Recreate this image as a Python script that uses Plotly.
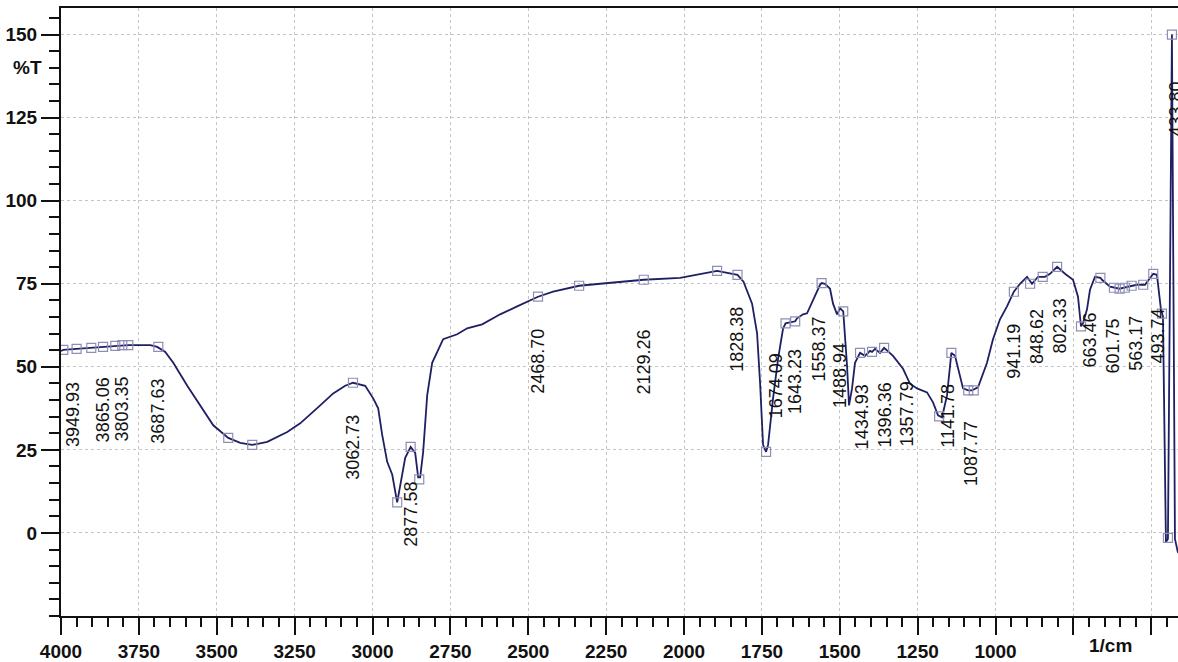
import plotly.graph_objects as go

# FTIR transmittance spectrum (wavenumber in 1/cm, transmittance in %T)
wavenumber = [
    4000, 3992.6, 3950.9, 3902.8, 3864.3, 3825.7, 3803.3, 3784.0, 3713.4, 3691.0,
    3665.3, 3639.6, 3594.7, 3552.9, 3511.2, 3463.1, 3424.6, 3386.1, 3338.0, 3273.8,
    3232.1, 3167.9, 3126.2, 3087.7, 3062.7, 3023.5, 2997.8, 2981.8, 2968.9, 2952.9,
    2936.8, 2920.8, 2911.2, 2895.1, 2877.6, 2863.0, 2853.4, 2847.0, 2837.4, 2824.5,
    2808.5, 2773.2, 2728.2, 2696.1, 2648.0, 2590.2, 2535.7, 2468.7, 2420.2, 2336.7,
    2269.3, 2129.3, 2012.6, 1948.4, 1893.8, 1828.4, 1809.1, 1781.6, 1765.5, 1755.9,
    1746.3, 1736.6, 1730.2, 1714.2, 1698.1, 1682.1, 1674.1, 1659.6, 1643.2, 1637.2,
    1617.9, 1605.1, 1585.8, 1563.4, 1558.4, 1547.4, 1531.3, 1521.7, 1508.8, 1499.2,
    1488.9, 1476.7, 1470.3, 1460.7, 1451.1, 1434.9, 1419.0, 1402.9, 1396.4, 1386.9,
    1370.8, 1357.8, 1329.1, 1297.0, 1274.5, 1252.1, 1220.0, 1200.7, 1184.7, 1171.8,
    1155.8, 1141.8, 1130.1, 1120.5, 1104.4, 1087.8, 1075.6, 1056.3, 1027.4, 1008.2,
    985.7, 963.2, 941.2, 921.5, 899.0, 883.0, 863.7, 848.6, 841.3, 825.2,
    802.3, 777.0, 751.3, 735.3, 725.7, 719.3, 706.4, 696.8, 680.8, 663.5,
    658.3, 632.6, 601.8, 574.9, 563.2, 546.0, 520.3, 493.7, 481.9, 469.1,
    462.6, 453.0, 446.6, 433.8, 424.1, 414.3,
]
transmittance = [
    54.8, 55.1, 55.4, 55.7, 56.0, 56.3, 56.5, 56.5, 56.5, 56.0,
    54.5, 51.2, 44.3, 38.4, 32.4, 28.6, 27.1, 26.5, 27.4, 30.4,
    33.0, 38.4, 42.0, 44.3, 45.2, 44.3, 40.5, 37.5, 29.5, 21.4,
    17.6, 9.2, 14.6, 22.6, 25.9, 24.1, 16.7, 16.7, 24.4, 41.4,
    51.2, 58.3, 59.8, 61.6, 62.8, 65.8, 68.2, 71.1, 72.6, 74.4,
    75.0, 76.2, 76.8, 78.0, 78.9, 77.7, 75.6, 69.0, 60.1, 45.2,
    26.5, 24.4, 26.5, 40.5, 52.4, 61.5, 63.1, 63.4, 63.7, 64.6,
    65.8, 66.1, 70.2, 74.7, 75.2, 75.0, 73.5, 69.0, 65.8, 67.6,
    66.7, 50.3, 38.4, 43.5, 51.2, 54.2, 53.3, 54.8, 54.5, 55.4,
    54.2, 55.7, 53.3, 49.4, 44.9, 43.5, 42.3, 39.3, 35.4, 34.8,
    41.4, 54.2, 53.3, 49.4, 43.5, 42.9, 42.9, 43.8, 51.2, 58.3,
    64.3, 68.2, 72.6, 75.0, 77.1, 75.0, 77.1, 77.1, 77.1, 78.0,
    80.1, 78.0, 76.2, 71.1, 62.2, 63.1, 67.3, 73.2, 77.1, 76.8,
    76.2, 74.1, 73.5, 74.1, 74.4, 74.7, 74.7, 78.0, 77.7, 67.3,
    65.2, -2.7, -1.8, 150.0, -1.8, -6.0,
]

# Peak-pick markers
peak_wn = [
    3992.6, 3949.93, 3902.8, 3865.06, 3825.7, 3803.35, 3784.0, 3687.63, 3463.1, 3386.1,
    3062.73, 2920.8, 2877.58, 2850.0, 2468.70, 2336.7, 2129.26, 1893.8, 1828.38, 1736.6,
    1674.09, 1643.23, 1558.37, 1488.94, 1434.93, 1396.36, 1357.79, 1181.0, 1141.78, 1087.77,
    1070.0, 941.19, 889.0, 848.62, 802.33, 725.7, 663.46, 620.0, 601.75, 585.0,
    563.17, 526.0, 493.74, 466.0, 446.6, 433.80,
]
peak_T = [
    55.1, 55.4, 55.7, 56.0, 56.3, 56.5, 56.5, 56.0, 28.6, 26.5,
    45.2, 9.2, 25.9, 16.1, 71.1, 74.4, 76.2, 78.9, 77.7, 24.4,
    63.1, 63.7, 75.2, 66.7, 54.2, 54.5, 55.7, 35.1, 54.2, 42.9,
    42.9, 72.6, 75.0, 77.1, 80.1, 62.2, 76.8, 73.8, 73.5, 73.8,
    74.4, 74.7, 78.0, 66.0, -1.5, 150.0,
]

# Labelled peaks (wavenumbers printed beside the trace)
label_wn = [
    3949.93, 3865.06, 3803.35, 3687.63, 3062.73, 2877.58, 2468.70, 2129.26, 1828.38,
    1674.09, 1643.23, 1558.37, 1488.94, 1434.93, 1396.36, 1357.79, 1141.78, 1087.77,
    941.19, 848.62, 802.33, 663.46, 601.75, 563.17, 493.74, 433.80,
]

# Label placement: vertical centre (in %T) and horizontal nudge (px)
label_y = [
    35.7, 36.9, 37.2, 36.6, 25.9, 5.7, 51.5, 51.5, 58.3,
    44.3, 45.5, 55.4, 47.3, 34.8, 35.4, 35.7, 35.4, 23.8,
    54.8, 59.2, 62.2, 58.0, 56.3, 57.1, 59.2, 127.7,
]
label_dx = [
    -3, 0, 0, 0, 0, 0, 0, 0, 0,
    -10, 0, -3, -3, 2, 13, 23, -3, 3,
    0, -5, 3, -10, -7, 5, 5, 4,
]

x_ticks = [4000, 3750, 3500, 3250, 3000, 2750, 2500, 2250, 2000, 1750, 1500, 1250, 1000, 750, 500]
x_ticktext = ["4000", "3750", "3500", "3250", "3000", "2750", "2500", "2250", "2000",
              "1750", "1500", "1250", "1000", "", ""]
y_ticks = [0, 25, 50, 75, 100, 125, 150]

FONT = "Liberation Sans, Arial, sans-serif"

fig = go.Figure()

fig.add_trace(go.Scatter(
    x=wavenumber, y=transmittance, mode="lines",
    line=dict(color="#1f1f63", width=1.8),
    hoverinfo="skip", showlegend=False,
))

fig.add_trace(go.Scatter(
    x=peak_wn, y=peak_T, mode="markers",
    marker=dict(symbol="square-open", size=9, color="#8e8eb4", line=dict(width=1.2)),
    showlegend=False,
))

for wn, yc, dx in zip(label_wn, label_y, label_dx):
    fig.add_annotation(
        x=wn, y=yc, xref="x", yref="y", text=f"{wn:.2f}",
        textangle=-90, showarrow=False, xshift=dx,
        xanchor="center", yanchor="middle",
        font=dict(family=FONT, size=18, color="#111111"),
    )

# axis captions placed in the tick-label rows
fig.add_annotation(
    x=0, y=140, xref="paper", yref="y", text="%T", showarrow=False,
    xanchor="center", yanchor="middle", xshift=-34,
    font=dict(family=FONT, size=19, color="#111111", weight="bold"),
)
fig.add_annotation(
    x=632, y=0, xref="x", yref="paper", text="1/cm", showarrow=False,
    xanchor="center", yanchor="middle", yshift=-29,
    font=dict(family=FONT, size=19, color="#111111", weight="bold"),
)

fig.update_xaxes(
    range=[4000, 414.3],
    tickmode="array", tickvals=x_ticks, ticktext=x_ticktext,
    ticks="outside", ticklen=17, tickwidth=2, tickcolor="#111111",
    minor=dict(tickmode="linear", tick0=0, dtick=50, ticks="outside",
               ticklen=9, tickwidth=2, tickcolor="#111111", showgrid=False),
    showgrid=True, gridcolor="#c4c4c4", gridwidth=1, griddash="dot",
    showline=True, linecolor="#111111", linewidth=2, mirror=True,
    zeroline=False,
    tickfont=dict(family=FONT, size=19, color="#111111", weight="bold"),
)
fig.update_yaxes(
    range=[-25, 158.0],
    tickmode="array", tickvals=y_ticks,
    ticks="outside", ticklen=18, tickwidth=2, tickcolor="#111111",
    minor=dict(tickmode="linear", tick0=0, dtick=5, ticks="outside",
               ticklen=10, tickwidth=2, tickcolor="#111111", showgrid=False),
    showgrid=True, gridcolor="#c4c4c4", gridwidth=1, griddash="dot",
    showline=True, linecolor="#111111", linewidth=2, mirror=False,
    zeroline=False,
    tickfont=dict(family=FONT, size=19, color="#111111", weight="bold"),
)

fig.update_layout(
    width=1178, height=662,
    margin=dict(l=61, r=0, t=8, b=39),
    paper_bgcolor="white", plot_bgcolor="white",
    showlegend=False,
)

fig.write_html("out.html")
